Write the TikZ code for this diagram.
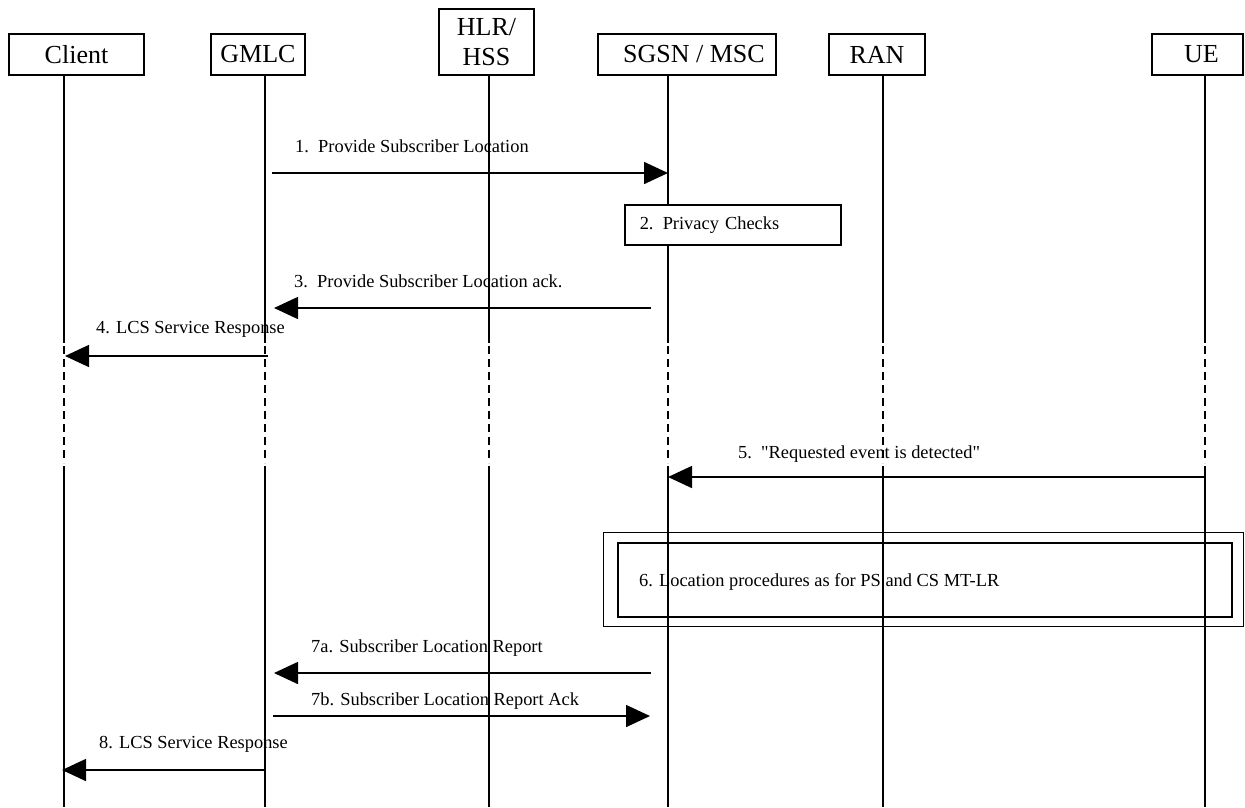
\documentclass[tikz,border=0pt]{standalone}
\usepackage{fontspec}
\setmainfont{Liberation Serif}
\newfontfamily\plainserif{Liberation Serif}
\usetikzlibrary{arrows.meta}
\begin{document}
\begin{tikzpicture}[x=1pt,y=-1pt,
  hdr/.style={draw,line width=1.5pt,font=\fontsize{26}{30}\selectfont,inner sep=0pt,align=center},
  life/.style={line width=1.3pt},
  lifedash/.style={line width=1.3pt,dash pattern=on 8pt off 5pt},
  msg/.style={line width=1.6pt,-{Triangle[length=24pt,width=22pt]}},
  lbl/.style={font=\fontsize{18.4}{22}\selectfont,inner sep=0pt,anchor=base west},
  actbox/.style={draw,line width=1.5pt,fill=white,font=\fontsize{18.4}{22}\selectfont,inner xsep=15pt,inner ysep=0pt,align=left}
]
\useasboundingbox (0,0) rectangle (1245,807);
\fill[white] (0,0) rectangle (1245,807);

% header boxes
\node[hdr,minimum width=135pt,minimum height=41pt] (client) at (76.5,54.5) {Client};
\node[hdr,minimum width=94pt,minimum height=41pt] (gmlc) at (258,54.5) {GMLC};
\node[hdr,minimum width=95pt,minimum height=66pt] (hlr) at (486.5,42) {HLR/\\HSS};
\node[hdr,minimum width=178pt,minimum height=41pt] (sgsn) at (687,54.5) {\hspace*{14pt}SGSN / MSC};
\node[hdr,minimum width=96pt,minimum height=41pt] (ran) at (877,54.5) {RAN};
\node[hdr,minimum width=91pt,minimum height=41pt] (ue) at (1197.5,54.5) {\hspace*{8pt}UE};

% lifeline coordinates
\foreach \n/\x in {c/64,g/265,h/489,s/668,r/883,u/1205}{
  \coordinate (\n0) at (\x,75);
  \coordinate (\n1) at (\x,343);
  \coordinate (\n2) at (\x,346);
  \coordinate (\n3) at (\x,463);
  \coordinate (\n4) at (\x,466);
  \coordinate (\n5) at (\x,807);
}
\foreach \n in {c,g,h,s,r,u}{
  \draw[life] (\n0) -- (\n1);
  \draw[lifedash] (\n2) -- (\n3);
  \draw[life] (\n4) -- (\n5);
}

% 1
\coordinate (m1a) at (272,173); \coordinate (m1b) at (668,173);
\draw[msg] (m1a) -- (m1b);
\node[lbl] (l1) at (295,152) {1.\ \ Provide Subscriber Location};

% 2
\node[actbox,anchor=west,text width=186pt,minimum height=40pt] (priv) at (624,225) {2. Privacy Checks};

% 3
\coordinate (m3a) at (651,308); \coordinate (m3b) at (274,308);
\draw[msg] (m3a) -- (m3b);
\node[lbl] (l3) at (294,287) {3.\ \ Provide Subscriber Location ack.};

% 4
\coordinate (m4a) at (268,356); \coordinate (m4b) at (65,356);
\draw[msg] (m4a) -- (m4b);
\node[lbl] (l4) at (96,333) {4. LCS Service Response};

% 5
\coordinate (m5a) at (1205,477); \coordinate (m5b) at (668,477);
\draw[msg] (m5a) -- (m5b);
\node[lbl] (l5) at (738,458) {\plainserif 5.\ \ "Requested event is detected"};

% 6
\node[draw,line width=1pt,minimum width=640pt,minimum height=94pt,inner sep=0pt] (b6o) at (923,579) {};
\node[draw,line width=1.8pt,minimum width=614pt,minimum height=74pt,inner sep=0pt] (b6i) at (925,580) {};
\node[lbl] (l6) at (639,586) {6. Location procedures as for PS and CS MT-LR};

% 7a
\coordinate (m7a) at (651,673); \coordinate (m7b) at (274,673);
\draw[msg] (m7a) -- (m7b);
\node[lbl] (l7a) at (311,652) {7a. Subscriber Location Report};

% 7b
\coordinate (m7c) at (273,716); \coordinate (m7d) at (650,716);
\draw[msg] (m7c) -- (m7d);
\node[lbl] (l7b) at (311,705) {7b. Subscriber Location Report Ack};

% 8
\coordinate (m8a) at (265,770); \coordinate (m8b) at (62,770);
\draw[msg] (m8a) -- (m8b);
\node[lbl] (l8) at (99,748) {8. LCS Service Response};
\end{tikzpicture}
\end{document}
